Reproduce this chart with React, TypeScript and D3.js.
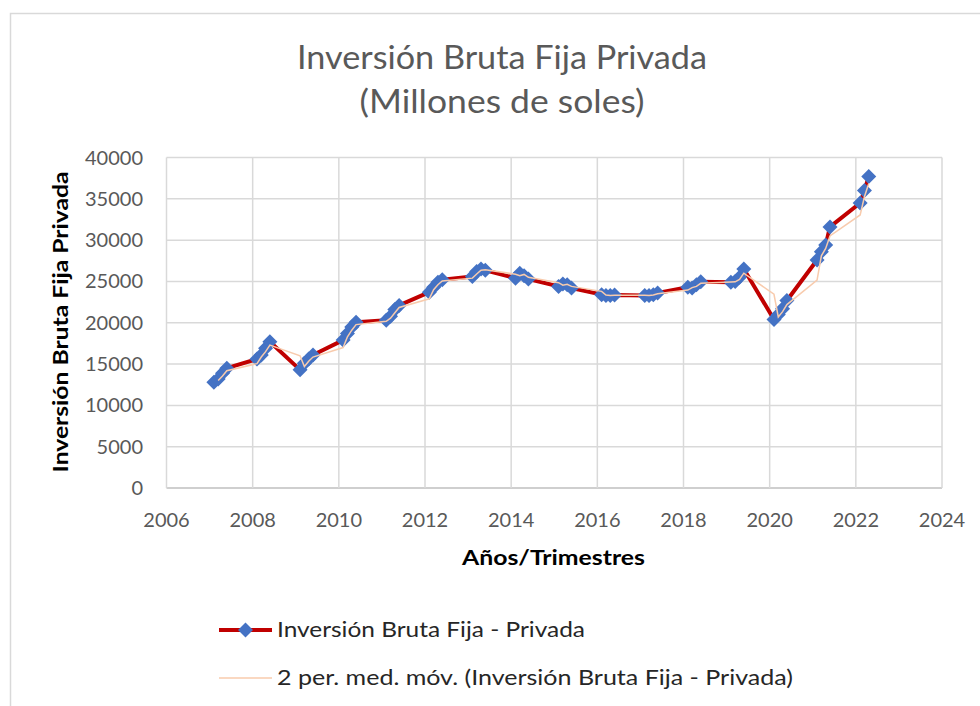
import React from "react";
import * as d3 from "d3";

const periods = [
  2007.1, 2007.2, 2007.3, 2007.4,
  2008.1, 2008.2, 2008.3, 2008.4,
  2009.1, 2009.2, 2009.3, 2009.4,
  2010.1, 2010.2, 2010.3, 2010.4,
  2011.1, 2011.2, 2011.3, 2011.4,
  2012.1, 2012.2, 2012.3, 2012.4,
  2013.1, 2013.2, 2013.3, 2013.4,
  2014.1, 2014.2, 2014.3, 2014.4,
  2015.1, 2015.2, 2015.3, 2015.4,
  2016.1, 2016.2, 2016.3, 2016.4,
  2017.1, 2017.2, 2017.3, 2017.4,
  2018.1, 2018.2, 2018.3, 2018.4,
  2019.1, 2019.2, 2019.3, 2019.4,
  2020.1, 2020.2, 2020.3, 2020.4,
  2021.1, 2021.2, 2021.3, 2021.4,
  2022.1, 2022.2, 2022.3,
];

const inversion = [
  12800, 13200, 13900, 14500,
  15600, 16100, 16900, 17700,
  14300, 15100, 15600, 16100,
  17900, 18700, 19500, 20050,
  20300, 20800, 21600, 22100,
  23700, 24300, 24900, 25200,
  25600, 26200, 26500, 26350,
  25400, 26000, 25700, 25300,
  24400, 24700, 24600, 24200,
  23400, 23300, 23300, 23350,
  23300, 23300, 23400, 23600,
  24300, 24200, 24600, 24950,
  24900, 25000, 25500, 26500,
  20400, 21000, 21700, 22700,
  27600, 28600, 29400, 31600,
  34500, 36000, 37700,
];

const yTicks = [0, 5000, 10000, 15000, 20000, 25000, 30000, 35000, 40000];
const xTicks = [2006, 2008, 2010, 2012, 2014, 2016, 2018, 2020, 2022, 2024];
const titleLines = ["Inversión Bruta Fija Privada", "(Millones de soles)"];
const xTitle = "Años/Trimestres";
const yTitle = "Inversión Bruta Fija Privada";
const seriesName = "Inversión Bruta Fija - Privada";
const trendName = "2 per. med. móv. (Inversión Bruta Fija - Privada)";

const FONT = "Lato, 'Open Sans', sans-serif";

export default function App() {
  const W = 980;
  const H = 706;
  const x = d3.scaleLinear().domain([2006, 2024]).range([166.5, 942]);
  const y = d3.scaleLinear().domain([0, 40000]).range([488, 157.5]);

  const pts: [number, number][] = periods.map((p, i) => [p, inversion[i]]);
  const ma: [number, number][] = pts
    .slice(1)
    .map((d, i) => [d[0], (inversion[i] + inversion[i + 1]) / 2]);

  const line = d3
    .line<[number, number]>()
    .x((d) => x(d[0]))
    .y((d) => y(d[1]));

  const r = 7.5;
  const diamond = `M0,${-r}L${r},0L0,${r}L${-r},0Z`;

  return (
    <svg
      width={W}
      height={H}
      style={{ position: "absolute", left: 0, top: 0, background: "#fff" }}
      fontFamily={FONT}
    >
      <rect x={0} y={0} width={W} height={H} fill="#fff" />
      {/* chart frame */}
      <path d={`M10.5,${H}V13.5H${W}`} fill="none" stroke="#d9d9d9" strokeWidth={1.5} />

      {/* title */}
      <text
        x={502}
        y={69}
        textAnchor="middle"
        fontSize={32}
        fontWeight={400}
        fill="#595959"
        textLength={410}
        lengthAdjust="spacingAndGlyphs"
      >
        {titleLines[0]}
      </text>
      <text
        x={502}
        y={113}
        textAnchor="middle"
        fontSize={32}
        fontWeight={400}
        fill="#595959"
        textLength={285}
        lengthAdjust="spacingAndGlyphs"
      >
        {titleLines[1]}
      </text>

      {/* gridlines */}
      {yTicks.map((t) => (
        <line
          key={"gy" + t}
          x1={x(2006)}
          x2={x(2024)}
          y1={y(t)}
          y2={y(t)}
          stroke={t === 0 ? "#bfbfbf" : "#d9d9d9"}
          strokeWidth={1.5}
        />
      ))}
      {xTicks.map((t) => (
        <line
          key={"gx" + t}
          x1={x(t)}
          x2={x(t)}
          y1={y(0)}
          y2={y(40000)}
          stroke="#d9d9d9"
          strokeWidth={1.5}
        />
      ))}

      {/* tick labels */}
      {yTicks.map((t) => (
        <text key={"ly" + t} x={143} y={y(t) + 7} textAnchor="end" fontSize={20} fill="#595959">
          {t}
        </text>
      ))}
      {xTicks.map((t) => (
        <text key={"lx" + t} x={x(t)} y={527} textAnchor="middle" fontSize={20} fill="#595959">
          {t}
        </text>
      ))}

      {/* axis titles */}
      <text
        x={553.5}
        y={565}
        textAnchor="middle"
        fontSize={21}
        fontWeight="bold"
        fill="#000"
        textLength={183}
        lengthAdjust="spacingAndGlyphs"
      >
        {xTitle}
      </text>
      <text
        transform={`translate(68,322) rotate(-90)`}
        textAnchor="middle"
        fontSize={21}
        fontWeight="bold"
        fill="#000"
        textLength={301}
        lengthAdjust="spacingAndGlyphs"
      >
        {yTitle}
      </text>

      {/* series */}
      <path d={line(pts) || ""} fill="none" stroke="#C00000" strokeWidth={4} strokeLinejoin="round" />
      {pts.map((d, i) => (
        <path key={"m" + i} d={diamond} transform={`translate(${x(d[0])},${y(d[1])})`} fill="#4472C4" />
      ))}
      <path d={line(ma) || ""} fill="none" stroke="#F8CBAD" strokeWidth={1.5} />

      {/* legend */}
      <line x1={219} x2={272} y1={630} y2={630} stroke="#C00000" strokeWidth={4} />
      <path d={diamond} transform="translate(245.5,630)" fill="#4472C4" />
      <text x={277} y={637} fontSize={21} fill="#262626" textLength={308} lengthAdjust="spacingAndGlyphs">
        {seriesName}
      </text>
      <line x1={219} x2={272} y1={678} y2={678} stroke="#F8CBAD" strokeWidth={1.5} />
      <text x={277} y={685} fontSize={21} fill="#262626" textLength={516} lengthAdjust="spacingAndGlyphs">
        {trendName}
      </text>
    </svg>
  );
}
